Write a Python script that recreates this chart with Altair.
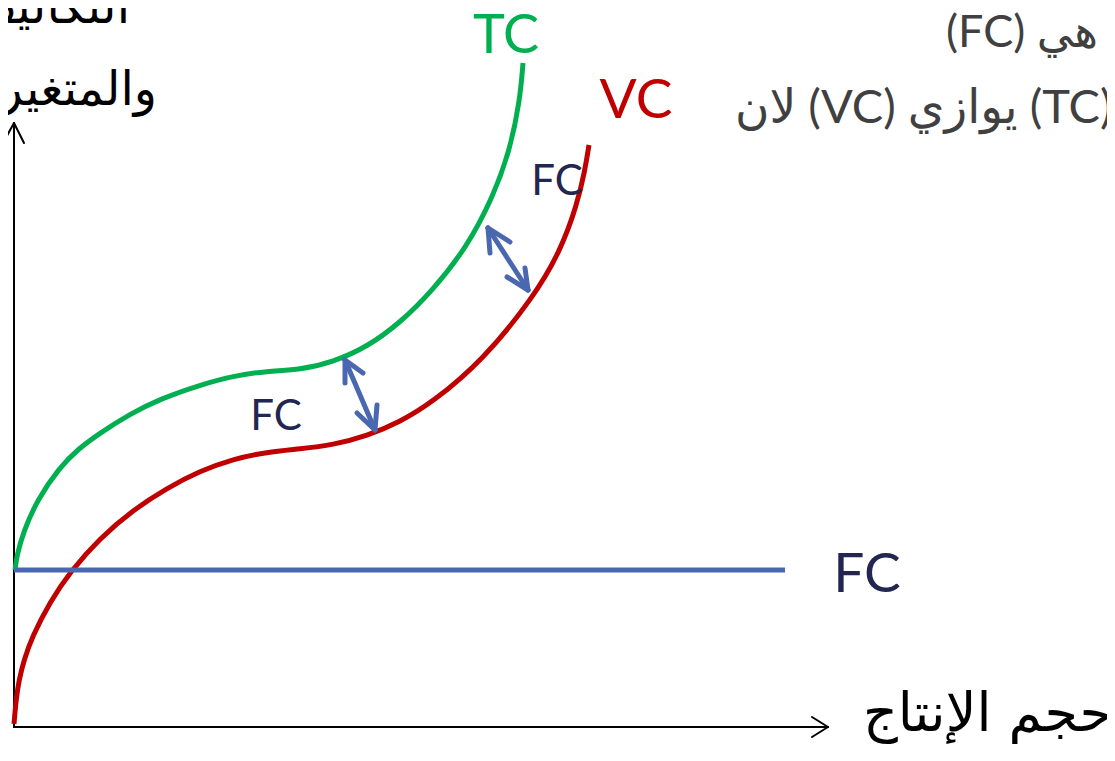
import altair as alt
import pandas as pd

# ---- data (x = output quantity, y = cost) ----
tc_q = [0.1, 0.3, 0.9, 2.3, 4.6, 6.3, 8.6, 11.6, 14.6, 18.6, 21.9, 25.3, 28.6,
        31.9, 35.3, 38.6, 41.9, 45.3, 47.9, 49.6, 50.6, 50.9]
tc_c = [15.7, 17.2, 19.4, 22.7, 26.0, 27.7, 29.4, 31.3, 32.8, 34.2, 35.1, 35.6, 35.7,
        36.5, 38.0, 40.4, 43.7, 48.0, 53.0, 57.7, 62.7, 66.4]

vc_q = [0.0, 0.2, 0.5, 1.0, 1.8, 3.6, 5.6, 8.6, 11.9, 15.3, 18.6, 21.9, 25.3, 28.6,
        31.9, 35.3, 38.6, 41.9, 46.9, 51.9, 54.6, 56.3, 57.1, 57.5]
vc_c = [0.3, 2.7, 4.7, 6.7, 9.0, 12.5, 15.5, 18.9, 21.7, 23.9, 25.6, 26.8, 27.5, 27.8,
        28.2, 29.1, 30.5, 32.5, 36.7, 42.9, 47.5, 52.2, 55.7, 58.2]

fc_q = [0.0, 77.1]
fc_c = [15.7, 15.7]

# axis lines with open arrow heads: (x1, y1, x2, y2)
axis_segs = [
    (0.0, 0.0, 0.0, 60.4), (0.0, 60.4, -1.1, 58.4), (0.0, 60.4, 1.0, 58.4),
    (0.0, 0.0, 81.4, 0.0), (81.4, 0.0, 79.8, 1.0), (81.4, 0.0, 79.8, -1.0),
]
# double-headed FC arrows between TC and VC
arrow_segs = [
    (33.1, 36.7, 36.1, 29.7), (33.1, 36.7, 33.1, 34.4), (33.1, 36.7, 34.9, 35.4),
    (36.1, 29.7, 34.3, 31.4), (36.1, 29.7, 36.3, 32.2),
    (47.4, 49.9, 51.4, 43.7), (47.4, 49.9, 47.6, 47.4), (47.4, 49.9, 49.6, 48.5),
    (51.4, 43.7, 49.3, 45.0), (51.4, 43.7, 51.1, 45.9),
]

lbl_tc = [("TC", 49.2, 67.4)]
lbl_vc = [("VC", 62.2, 60.9)]
lbl_fc_big = [("FC", 85.3, 13.5)]
lbl_fc_small = [("FC", 26.2, 29.7), ("FC", 54.3, 53.2)]
lbl_axis_y = [("التكاليف", 11.6, 70.4), ("والمتغير", 14.3, 62.2)]
lbl_axis_x = [("حجم الإنتاج", 84.9, -0.4)]
note_right = [("(FC) هي", 108.4, 68.0)]
note_left = [("لان (VC) يوازي (TC)", 72.1, 60.4)]

# ---- chart ----
xs = alt.Scale(domain=[-0.6, 109.3], nice=False, zero=False)
ys = alt.Scale(domain=[-2.6, 71.9], nice=False, zero=False)


def curve(q, c, color, interp):
    df = pd.DataFrame({"q": q, "c": c})
    return alt.Chart(df).mark_line(color=color, strokeWidth=5, interpolate=interp).encode(
        x=alt.X("q:Q", scale=xs, axis=None),
        y=alt.Y("c:Q", scale=ys, axis=None),
    )


def segs(rows, color, width):
    df = pd.DataFrame(rows, columns=["q1", "c1", "q2", "c2"])
    return alt.Chart(df).mark_rule(color=color, strokeWidth=width, strokeCap="round").encode(
        x=alt.X("q1:Q", scale=xs, axis=None),
        y=alt.Y("c1:Q", scale=ys, axis=None),
        x2="q2:Q",
        y2="c2:Q",
    )


def label(items, color, size, font, align):
    df = pd.DataFrame(items, columns=["t", "q", "c"])
    return alt.Chart(df).mark_text(
        color=color, fontSize=size, font=font, align=align, baseline="alphabetic"
    ).encode(
        x=alt.X("q:Q", scale=xs, axis=None),
        y=alt.Y("c:Q", scale=ys, axis=None),
        text="t:N",
    )


GREEN = "#00b050"
RED = "#c00000"
BLUE = "#4a68b0"
NAVY = "#232650"

chart = alt.layer(
    segs(axis_segs, "black", 2),
    curve(tc_q, tc_c, GREEN, "basis"),
    curve(vc_q, vc_c, RED, "basis"),
    curve(fc_q, fc_c, BLUE, "linear"),
    segs(arrow_segs, BLUE, 5),
    label(lbl_tc, GREEN, 54, "Lato", "center"),
    label(lbl_vc, RED, 55, "Lato", "center"),
    label(lbl_fc_big, NAVY, 55, "Lato", "center"),
    label(lbl_fc_small, NAVY, 42, "Lato", "center"),
    label(lbl_axis_y, "black", 48, "DejaVu Sans", "right"),
    label(lbl_axis_x, "black", 54, "DejaVu Sans", "left"),
    label(note_right, "#404040", 45, "Lato, DejaVu Sans", "right"),
    label(note_left, "#404040", 47, "Lato, DejaVu Sans", "left"),
).properties(
    width=1099,
    height=745,
    padding=0,
    autosize=alt.AutoSizeParams(type="none"),
    background="white",
).configure_view(stroke=None)

chart.save("out.html", embed_options={"renderer": "svg", "actions": False})
